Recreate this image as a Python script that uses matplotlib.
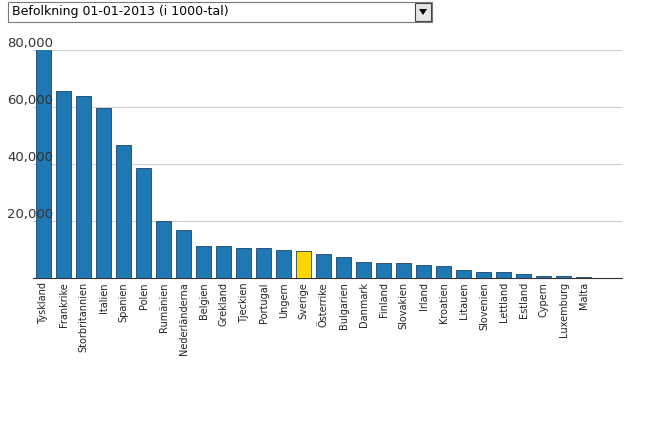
import matplotlib
matplotlib.use("Agg")
import matplotlib.pyplot as plt
from matplotlib.patches import Rectangle, Polygon
import matplotlib.transforms as mtrans

countries = ["Tyskland","Frankrike","Storbritannien","Italien","Spanien","Polen","Rumänien",
             "Nederländerna","Belgien","Grekland","Tjeckien","Portugal","Ungern","Sverige",
             "Österrike","Bulgarien","Danmark","Finland","Slovakien","Irland","Kroatien",
             "Litauen","Slovenien","Lettland","Estland","Cypern","Luxemburg","Malta"]
population = [80524,65633,63896,59685,46728,38533,20020,16780,11162,11063,10516,10487,9909,9556,
              8452,7285,5603,5427,5411,4591,4262,2972,2059,2024,1320,866,537,421]
yticks = [20000, 40000, 60000, 80000]
highlight = "Sverige"

fig = plt.figure(figsize=(6.48, 4.33), dpi=100)
ax = fig.add_axes([33/648, 1-278/433, 589/648, 228/433])
colors = ["#ffd700" if c == highlight else "#1f77b4" for c in countries]
ax.bar(range(len(countries)), population, width=0.75, color=colors,
       edgecolor="#1a4466", linewidth=0.6, zorder=3)
ax.set_xlim(-0.525, 28.9)
ax.set_ylim(0, 80000)
ax.set_yticks(yticks)
ax.yaxis.grid(True, color="#d0d0d0", linewidth=0.8, zorder=0)
ax.tick_params(axis="y", length=0, labelleft=False)
tr = mtrans.blended_transform_factory(fig.transFigure, ax.transData)
for t in yticks:
    ax.text(7/648, t, f"{t:,}", transform=tr, ha="left", va="bottom",
            fontsize=9.5, color="#333333", family="DejaVu Sans")
ax.set_xticks(range(len(countries)))
ax.set_xticklabels(countries, rotation=90, fontsize=7, color="#222222")
ax.tick_params(axis="x", length=0, pad=3)
for s in ["top", "right", "left"]:
    ax.spines[s].set_visible(False)
ax.spines["bottom"].set_color("#333333")

# dropdown
fig.patches.append(Rectangle((8/648, 1-22/433), 424/648, 20/433, transform=fig.transFigure,
                             facecolor="white", edgecolor="#7a7a7a", linewidth=0.8))
fig.patches.append(Rectangle((415/648, 1-21/433), 16/648, 18/433, transform=fig.transFigure,
                             facecolor="#e6e6e6", edgecolor="#444444", linewidth=0.8))
fig.patches.append(Polygon([(419/648, 1-9/433), (427/648, 1-9/433), (423/648, 1-15/433)],
                           closed=True, transform=fig.transFigure, facecolor="black"))
fig.text(12/648, 1-12/433, "Befolkning 01-01-2013 (i 1000-tal)", ha="left", va="center",
         fontsize=9, color="black")

fig.savefig("out.png", dpi=100)
